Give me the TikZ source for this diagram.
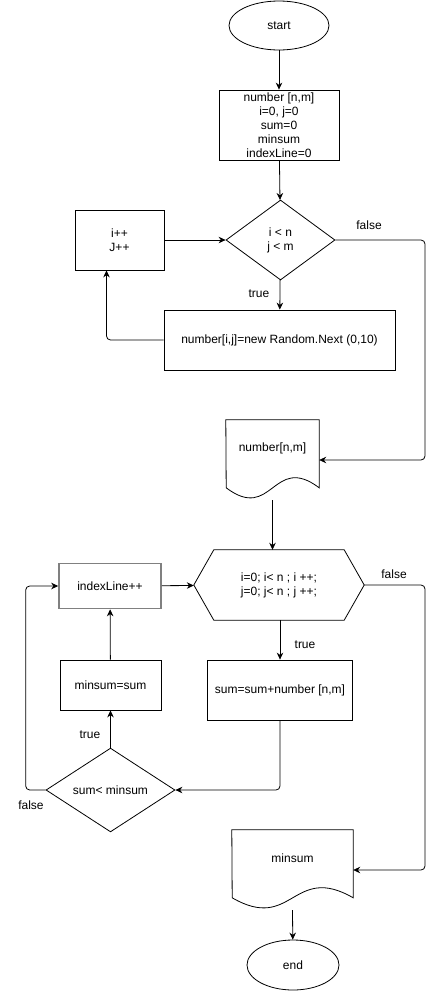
\documentclass[tikz,border=0pt]{standalone}
\usepackage{fontspec}
\setmainfont{Liberation Sans}
\usetikzlibrary{arrows.meta,calc,shapes}

\begin{document}
\begin{tikzpicture}[x=1pt,y=-1pt,font=\fontsize{12}{14}\selectfont,
    every node/.style={align=center,inner sep=1pt},
    box/.style={draw,rectangle,line width=0.8pt},
    greybox/.style={draw=black!50,rectangle,line width=1.6pt},
    term/.style={draw,ellipse,line width=0.8pt},
    cond/.style={draw,diamond,line width=0.8pt,inner sep=0pt},
    line/.style={line width=0.8pt},
    tip/.style={-{Stealth[length=7pt,width=6.5pt]}}]

  \useasboundingbox (0,0) rectangle (434,991);

  % upper part: fill the array
  \node[term,minimum width=100pt,minimum height=49pt] (start) at (279,25.5) {start};
  \node[box,minimum width=120pt,minimum height=70pt] (init) at (279,125)
    {number [n,m]\\ i=0, j=0\\ sum=0\\ minsum\\ indexLine=0};
  \node[cond,minimum width=109pt,minimum height=80pt] (ij) at (280.5,240) {i < n\\ j < m};
  \node[box,minimum width=89pt,minimum height=60pt] (inc) at (119.5,240) {i++\\ J++};
  \node[box,minimum width=231pt,minimum height=60pt] (fill) at (279.5,340)
    {number[i,j]=new Random.Next (0,10)};
  \node[minimum width=93pt,minimum height=56pt] (arr) at (272.5,448) {number[n,m]};
  \draw[line] (arr.north west) -- (arr.north east) -- ++(0,68)
    .. controls +(-46.5,-35) and +(46.5,35) .. ++(-93,0) -- cycle;

  % lower part: search
  \node[minimum width=170pt,minimum height=70pt] (loop) at (279,585)
    {i=0; i< n ; i ++;\\ j=0; j< n ; j ++;};
  \draw[line] ([xshift=20pt]loop.north west) -- ([xshift=-20pt]loop.north east) -- (loop.east)
    -- ([xshift=-20pt]loop.south east) -- ([xshift=20pt]loop.south west) -- (loop.west) -- cycle;
  \node[greybox,minimum width=102pt,minimum height=45pt] (idx) at (110,586) {indexLine++};
  \node[box,minimum width=145pt,minimum height=60pt] (sum) at (280,690) {sum=sum+number [n,m]};
  \node[box,minimum width=101pt,minimum height=50pt] (msum) at (110.5,685) {minsum=sum};
  \node[cond,minimum width=129pt,minimum height=80pt] (cmp) at (110.5,790) {sum< minsum};
  \node[minimum width=121pt,minimum height=56pt] (res) at (292.5,858) {minsum};
  \draw[line] (res.north west) -- (res.north east) -- ++(0,68)
    .. controls +(-60.5,-35) and +(60.5,35) .. ++(-121,0) -- cycle;
  \node[term,minimum width=92pt,minimum height=50pt] (end) at (293,965) {end};

  % labels
  \node (f1) at (369,225) {false};
  \node (t1) at (259,294) {true};
  \node (f2) at (394,574) {false};
  \node (t2) at (305,645) {true};
  \node (t3) at (90,735) {true};
  \node (f3) at (31,805) {false};

  \coordinate (railr) at (425,0);
  \coordinate (raill) at (25.7,0);

  \path[line,tip]
    (start) edge (init)
    (init) edge (ij)
    (inc) edge (ij)
    (ij) edge (fill)
    (idx) edge (loop)
    (loop.south -| sum.north) edge (sum)
    (cmp) edge (msum)
    (msum) edge (idx)
    ($(arr.south)+(0,24)$) edge (arr.south |- loop.north)
    ($(res.south)+(0,24)$) edge (end);
  \draw[line,tip,rounded corners=4pt] (fill.west) -| ($(inc.south)+(-13,0)$);
  \draw[line,tip,rounded corners=4pt] (ij.east) -- (ij.east -| railr)
    |- ($(arr.east)+(0,12)$);
  \draw[line,tip,rounded corners=4pt] (loop.east) -- (loop.east -| railr)
    |- ($(res.east)+(0,12)$);
  \draw[line,tip,rounded corners=4pt] (sum.south) |- (cmp.east);
  \draw[line,tip,rounded corners=4pt] (cmp.west) -- (cmp.west -| raill)
    |- (idx.west);
\end{tikzpicture}
\end{document}
